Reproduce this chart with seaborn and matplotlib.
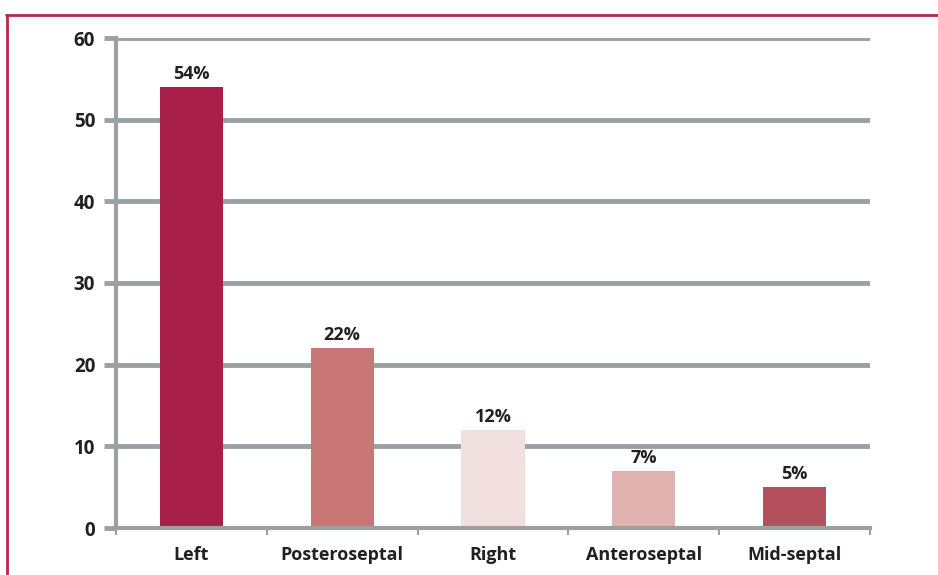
import matplotlib
matplotlib.use("Agg")
import matplotlib.pyplot as plt
from matplotlib.lines import Line2D
import pandas as pd
import seaborn as sns

# data
regions = ["Left", "Posteroseptal", "Right", "Anteroseptal", "Mid-septal"]
shares = [54, 22, 12, 7, 5]
bar_colors = ["#A8204A", "#C87676", "#F2E0DF", "#E0B2B0", "#B5515E"]
y_ticks = [0, 10, 20, 30, 40, 50, 60]

grid_gray = "#9AA0A3"
text_dark = "#231F20"
frame_red = "#B5284F"

sns.set_style("white")
plt.rcParams["font.family"] = ["Open Sans", "DejaVu Sans"]

df = pd.DataFrame({"Region": regions, "Share": shares})

fig = plt.figure(figsize=(9.38, 5.75), dpi=100)
ax = fig.add_axes([116 / 938, 1 - 528 / 575, (870 - 116) / 938, (528 - 38) / 575])

sns.barplot(
    data=df,
    x="Region",
    y="Share",
    hue="Region",
    palette=bar_colors,
    legend=False,
    width=0.42,
    saturation=1,
    linewidth=0,
    ax=ax,
    zorder=3
)

# value labels on top of bars
for container in ax.containers:
    ax.bar_label(
        container,
        labels=[f"{int(round(v))}%" for v in container.datavalues],
        padding=3,
        fontsize=13,
        fontweight="bold",
        color=text_dark
    )

ax.set_ylim(0, 60)
ax.set_xlim(-0.5, len(regions) - 0.5)
ax.set_yticks(y_ticks)
ax.set_xlabel("")
ax.set_ylabel("")

# horizontal grid behind bars
ax.set_axisbelow(True)
ax.yaxis.grid(True, color=grid_gray, linewidth=3.5)
ax.xaxis.grid(False)

# spines
for side in ["top", "right"]:
    ax.spines[side].set_visible(False)
for side in ["left", "bottom"]:
    ax.spines[side].set_color(grid_gray)
    ax.spines[side].set_linewidth(3)
    ax.spines[side].set_zorder(4)

# y ticks stick out to the left
ax.tick_params(axis="y", which="major", direction="out", left=True, length=9,
               width=3.5, color=grid_gray, labelsize=13.5, labelcolor=text_dark,
               pad=6)
for lbl in ax.get_yticklabels():
    lbl.set_fontweight("bold")

# x ticks sit at category boundaries
ax.set_xticks([i - 0.5 for i in range(len(regions) + 1)], minor=True)
ax.tick_params(axis="x", which="minor", direction="out", bottom=True, length=5,
               width=1.5, color=grid_gray)
ax.tick_params(axis="x", which="major", length=0, labelsize=13,
               labelcolor=text_dark, pad=13)
for lbl in ax.get_xticklabels():
    lbl.set_fontweight("bold")

# red frame on top and left of the figure
top_y = 1 - 15 / 575
fig.add_artist(Line2D([6 / 938, 1.0], [top_y, top_y], color=frame_red, linewidth=2))
fig.add_artist(Line2D([7 / 938, 7 / 938], [0, top_y], color=frame_red, linewidth=2))

fig.savefig("out.png", dpi=100)
